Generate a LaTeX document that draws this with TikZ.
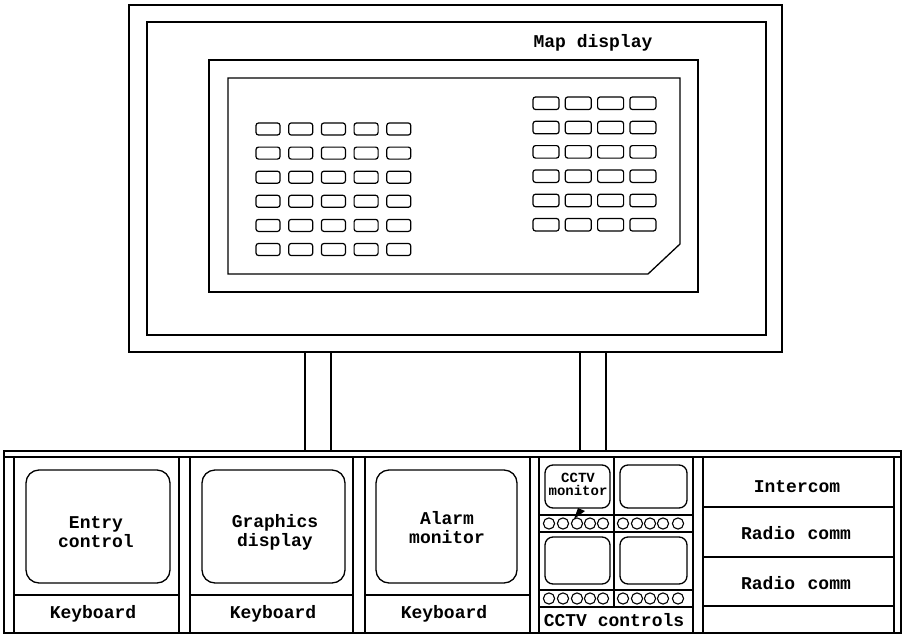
\documentclass[tikz,border=0pt]{standalone}
\usepackage{fontspec}
\setmonofont{Liberation Mono}
\begin{document}
\begin{tikzpicture}[x=1pt,y=-1pt,line width=1.3pt,
  lbl/.style={font=\ttfamily\bfseries\fontsize{18}{19}\selectfont,align=center,inner sep=0pt},
  small/.style={font=\ttfamily\bfseries\fontsize{14}{13}\selectfont,align=center,inner sep=0pt},
  key/.style={draw,rounded corners=2.5pt,line width=1.2pt},
  mon/.style={draw,rounded corners=13pt},
  smon/.style={draw,rounded corners=8pt}]
\useasboundingbox (0,0) rectangle (904,634);
% big display frame
\draw (129,5) rectangle (782,352);
\draw (147,22) rectangle (766,335);
\draw (209,60) rectangle (698,292);
\draw (228,78) -- (680,78) -- (680,244) -- (648,274) -- (228,274) -- cycle;
\node[lbl] (map) at (593,43) {Map display};
% left key grid
\foreach \i in {0,...,4}{\foreach \j in {0,...,5}{
  \draw[key] (256+\i*32.7,123+\j*24.1) rectangle ++(24,12);}}
% right key grid
\foreach \i in {0,...,3}{\foreach \j in {0,...,5}{
  \draw[key] (533+\i*32.3,97+\j*24.3) rectangle ++(26,12.5);}}
% posts
\draw (305,352) rectangle (331,451);
\draw (580,352) rectangle (606,451);
% console
\draw (4,451) rectangle (901,633);
\draw (4,457) -- (901,457);
\foreach \x in {14,179,190,353,365,530,539,693,703,894}{\draw (\x,457) -- (\x,633);}
% panel 1-3
\draw (14,595) -- (179,595);
\draw (190,595) -- (353,595);
\draw (365,595) -- (530,595);
\draw[mon] (26,470) rectangle (170,583);
\draw[mon] (202,470) rectangle (345,583);
\draw[mon] (376,470) rectangle (517,583);
\node[lbl] (entry) at (96,532) {Entry\\control};
\node[lbl] (graph) at (275,532) {Graphics\\display};
\node[lbl] (alarm) at (447,528) {Alarm\\monitor};
\node[lbl] (kb1) at (93,614) {Keyboard};
\node[lbl] (kb2) at (273,614) {Keyboard};
\node[lbl] (kb3) at (444,614) {Keyboard};
% CCTV panel
\draw (614,457) -- (614,607);
\foreach \y in {515,532,590,607}{\draw (539,\y) -- (693,\y);}
\draw[smon] (545,465) rectangle (610,508);
\draw[smon] (620,465) rectangle (687,508);
\draw[smon] (545,537) rectangle (610,584);
\draw[smon] (620,537) rectangle (687,584);
\foreach \x in {549,563,577,590,603,623,637,650,663,678}{
  \draw[line width=1.1pt] (\x,523.5) circle (5.6);
  \draw[line width=1.1pt] (\x,598.5) circle (5.6);}
\node[small] (cctvm) at (578,484) {CCTV\\monitor};
\fill (574,519) -- (578,508) -- (585,511) -- cycle;
\node[lbl] (cctvc) at (614,620) {CCTV controls};
% right panel
\foreach \y in {507,557,606}{\draw (703,\y) -- (894,\y);}
\node[lbl] (ic) at (797,487) {Intercom};
\node[lbl] (r1) at (796,533) {Radio\hspace{0.7em}comm};
\node[lbl] (r2) at (796,583) {Radio\hspace{0.7em}comm};
\end{tikzpicture}
\end{document}
